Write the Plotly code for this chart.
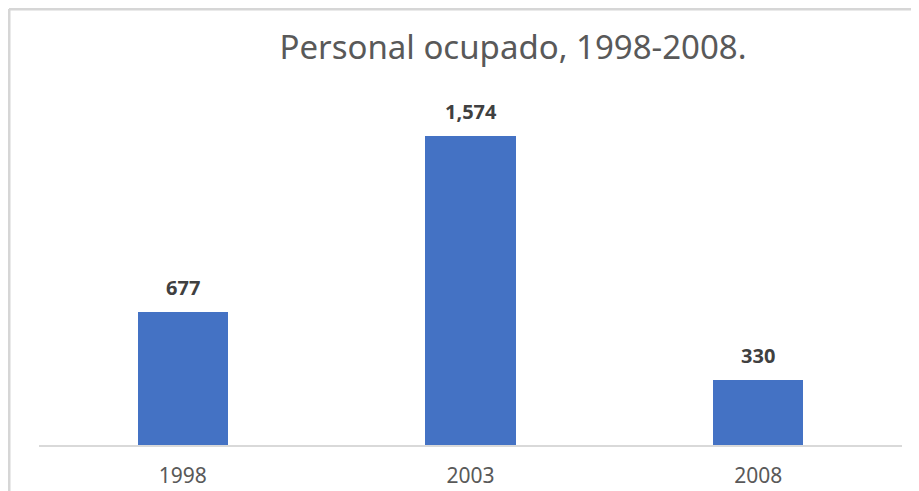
import plotly.graph_objects as go

# data
years = ["1998", "2003", "2008"]
personal = [677, 1574, 330]
labels = ["677", "1,574", "330"]

# the page puts the figure 8px in from the window corner
OFF = 8
WIN_W, WIN_H = 919, 491
W, H = WIN_W - 2 * OFF, WIN_H
L = 39 - OFF
T = 92 - OFF
B = H - (445 - OFF)
R = W - (902 - OFF)
plot_h = H - T - B
plot_w = W - L - R


def px_x(px):
    return (px - OFF - L) / plot_w


def px_y(py):
    return (H - B - (py - OFF)) / plot_h


fig = go.Figure()
fig.add_trace(go.Bar(
    x=years,
    y=personal,
    marker=dict(color="#4472C4", line=dict(width=0)),
    width=0.313,
    hoverinfo="skip",
))

# data labels above the bars (category index as x)
for i, (val, lab) in enumerate(zip(personal, labels)):
    fig.add_annotation(
        x=i, y=val, text=f"<b>{lab}</b>", showarrow=False,
        yanchor="bottom", yshift=9,
        font=dict(family="Noto Sans, sans-serif", size=20, color="#404040"),
    )

# chart frame (only top and left edges visible in the crop)
frame = dict(type="line", xref="paper", yref="paper",
             line=dict(color="#D6D6D6", width=3))
fig.add_shape(**frame, x0=px_x(9), y0=px_y(9), x1=px_x(9), y1=px_y(WIN_H + 20))
fig.add_shape(**frame, x0=px_x(9), y0=px_y(9), x1=px_x(WIN_W + 20), y1=px_y(9))

fig.update_layout(
    width=W, height=H,
    margin=dict(l=L, r=R, t=T, b=B),
    paper_bgcolor="white",
    plot_bgcolor="white",
    showlegend=False,
    bargap=0,
    title=dict(
        text="Personal ocupado, 1998-2008.",
        x=(513 - OFF) / W, xanchor="center",
        y=1 - (47 - OFF) / H, yanchor="middle",
        font=dict(family="Noto Sans, sans-serif", size=33, color="#595959"),
    ),
    xaxis=dict(
        type="category",
        range=[-0.5, len(years) - 0.5],
        automargin=False,
        showline=True, linecolor="#D9D9D9", linewidth=2,
        ticks="outside", ticklen=11, tickcolor="rgba(0,0,0,0)",
        tickfont=dict(family="Noto Sans, sans-serif", size=21, color="#595959"),
        showgrid=False, fixedrange=True,
    ),
    yaxis=dict(
        range=[0, 1800], visible=False, showgrid=False, fixedrange=True,
        automargin=False,
    ),
)

fig.write_html("out.html")
